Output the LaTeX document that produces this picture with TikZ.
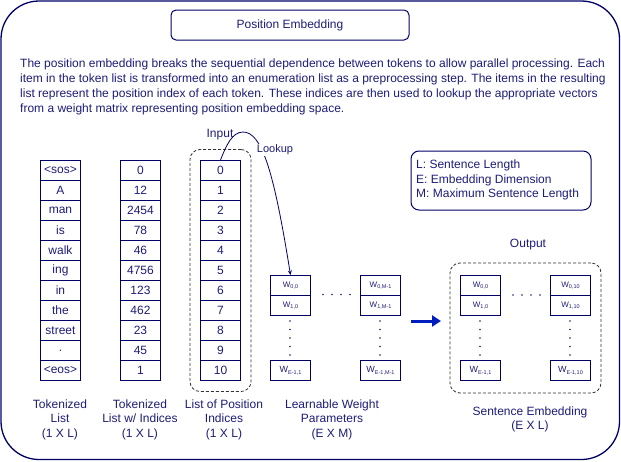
\documentclass[tikz,border=0pt]{standalone}
\usepackage{fontspec}
\setmainfont{Liberation Sans}
\usetikzlibrary{arrows.meta,fit}
\definecolor{navy}{RGB}{0,0,102}
\definecolor{txt}{RGB}{28,28,120}
\definecolor{arrowblue}{RGB}{0,30,190}
\newcommand{\wl}[2]{{\fontsize{#1}{#1}\selectfont W}\raisebox{-1.6pt}{\fontsize{5.5}{6}\selectfont #2}}
\begin{document}
\begin{tikzpicture}[x=1pt,y=-1pt,
  every node/.style={text=txt, font=\fontsize{12}{14.5}\selectfont, inner sep=0pt},
  cell/.style={draw=navy, line width=1pt, minimum width=40pt, minimum height=20pt, anchor=north west},
  dashbox/.style={draw=black!80, dash pattern=on 3pt off 2pt, rounded corners=10pt, line width=0.8pt},
  lbl/.style={align=center, anchor=north},
  dotv/.style={fill=txt, circle, minimum size=1.8pt, inner sep=0pt}
]
\useasboundingbox (0,0) rectangle (621,461);
\draw[navy, line width=1.3pt, rounded corners=38pt] (1,1) rectangle (619.5,459.5);

\node[draw=navy, line width=1pt, rounded corners=5pt, minimum width=238pt, minimum height=30pt] (title) at (290,25) {Position Embedding};

\node[anchor=base west] (p1) at (20,67.5) {The position embedding breaks the sequential dependence between tokens to allow parallel processing. Each};
\node[anchor=base west] (p2) at (20,82.5) {item in the token list is transformed into an enumeration list as a preprocessing step. The items in the resulting};
\node[anchor=base west] (p3) at (20,97.5) {list represent the position index of each token. These indices are then used to lookup the appropriate vectors};
\node[anchor=base west] (p4) at (20,112) {from a weight matrix representing position embedding space.};

% columns
\foreach \t [count=\i from 0] in {<sos>,A,man,is,walk,ing,in,the,street,.,<eos>}
  \node[cell] (a\i) at (40,{160+20*\i}) {\t};
\foreach \t [count=\i from 0] in {0,12,2454,78,46,4756,123,462,23,45,1}
  \node[cell] (b\i) at (120,{160+20*\i}) {\t};
\foreach \i in {0,...,10}
  \node[cell] (c\i) at (200,{160+20*\i}) {\i};
\node[dashbox, fit=(c0)(c10), inner xsep=10pt, inner ysep=10.5pt] (posbox) {};

\node[lbl] (la) at (60,399.5) {Tokenized\\List\\(1 X L)};
\node[lbl] (lb) at (140,399.5) {Tokenized\\List w/ Indices\\(1 X L)};
\node[lbl] (lc) at (224,399.5) {List of Position\\Indices\\(1 X L)};
\node[lbl] (ld) at (332,399.5) {Learnable Weight\\Parameters\\(E X M)};
\node[lbl] (le) at (530,406.5) {Sentence Embedding\\(E X L)};

% weight matrix
\node[cell] (w00) at (270,275) {\wl{8}{0,0}};
\node[cell] (w10) at (270,295) {\wl{8}{1,0}};
\node[cell] (we1) at (270,360) {\wl{9}{E-1,1}};
\node[cell] (w0m) at (360,275) {\wl{8}{0,M-1}};
\node[cell] (w1m) at (360,295) {\wl{8}{1,M-1}};
\node[cell] (wem) at (360,360) {\wl{9}{E-1,M-1}};
\foreach \y in {321,329.5,338,346.5,355} {
  \node[dotv] at (290,\y) {};
  \node[dotv] at (380,\y) {};
  \node[dotv] at (480,\y) {};
  \node[dotv] at (570,\y) {};
}
\foreach \x in {0,9,18,27} {
  \node[dotv] at ({323+\x},294.5) {};
  \node[dotv] at ({513+\x},295) {};
}

% output
\node[cell] (o00) at (460,275) {\wl{8}{0,0}};
\node[cell] (o10) at (460,295) {\wl{8}{1,0}};
\node[cell] (oe1) at (460,360) {\wl{9}{E-1,1}};
\node[cell] (o0l) at (550,275) {\wl{8}{0,10}};
\node[cell] (o1l) at (550,295) {\wl{8}{1,10}};
\node[cell] (oel) at (550,360) {\wl{9}{E-1,10}};
\node[dashbox, fit=(o00)(oel), inner xsep=10pt, inner ysep=0pt, minimum height=130pt] (outbox) {};
\node (outlbl) at (528,245) {Output};

% legend
\node[draw=navy, line width=1pt, rounded corners=8pt, minimum width=180pt, minimum height=59pt] (legend) at (501,180.5) {};
\node[anchor=west, align=left] (legtxt) at (416,180) {L: Sentence Length\\E: Embedding Dimension\\M: Maximum Sentence Length};

% arrow
\coordinate (as) at (411,321);
\coordinate (ae) at (441,321);
\draw[arrowblue, line width=3pt, -{Triangle[length=9pt,width=11pt]}] (as) -- (ae);

% lookup curve
\coordinate (peak) at (243,132);
\draw[navy, line width=0.8pt, -{Stealth[length=4.5pt,width=4pt]}] (c0.north) .. controls (226,146) and (232,132) .. (peak) .. controls (262,132) and (274,172) .. (w00.north);
\node[fill=white, inner sep=1pt, font=\fontsize{11}{12}\selectfont] (lookup) at (275,150) {Lookup};
\node (input) at (220,134.5) {Input};
\end{tikzpicture}
\end{document}
